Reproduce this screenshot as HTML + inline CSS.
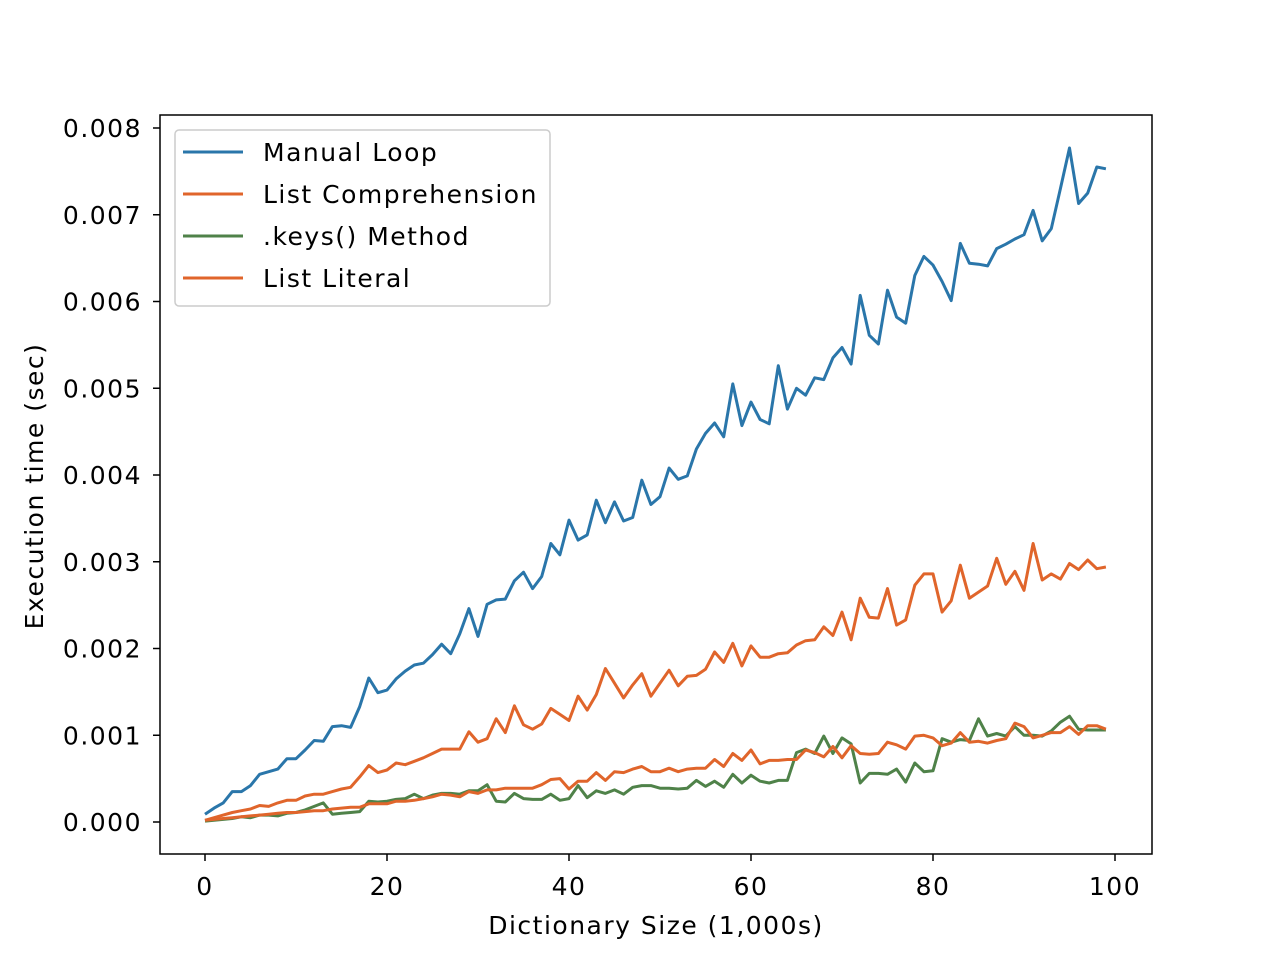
<!DOCTYPE html>
<html><head><meta charset="utf-8"><style>
body{margin:0;background:#fff;}
svg text{font-family:"DejaVu Sans","Liberation Sans",sans-serif;fill:#000;letter-spacing:1.5px;}
</style></head><body>
<svg id="chart" width="1280" height="960" xmlns="http://www.w3.org/2000/svg">
<rect width="1280" height="960" fill="#fff"/>
<g id="plot"></g>
</svg>
<script>
const xValues = Array.from({length:100},(_, i)=>i);
const manualLoop = [0.09,0.16,0.22,0.35,0.35,0.42,0.55,0.58,0.61,0.73,0.73,0.83,0.94,0.93,1.1,1.11,1.09,1.33,1.66,1.49,1.52,1.65,1.74,1.81,1.83,1.93,2.05,1.94,2.17,2.46,2.14,2.51,2.56,2.57,2.78,2.88,2.69,2.83,3.21,3.08,3.48,3.25,3.31,3.71,3.45,3.69,3.47,3.51,3.94,3.66,3.75,4.08,3.95,3.99,4.3,4.48,4.6,4.44,5.05,4.57,4.84,4.64,4.59,5.26,4.76,5.0,4.92,5.12,5.1,5.35,5.47,5.28,6.07,5.61,5.51,6.13,5.82,5.75,6.3,6.52,6.42,6.23,6.01,6.67,6.44,6.43,6.41,6.61,6.66,6.72,6.77,7.05,6.7,6.84,7.3,7.77,7.13,7.25,7.55,7.53];
const listComprehension = [0.02,0.05,0.08,0.11,0.13,0.15,0.19,0.18,0.22,0.25,0.25,0.3,0.32,0.32,0.35,0.38,0.4,0.52,0.65,0.57,0.6,0.68,0.66,0.7,0.74,0.79,0.84,0.84,0.84,1.04,0.92,0.96,1.19,1.03,1.34,1.12,1.07,1.13,1.31,1.24,1.17,1.45,1.29,1.47,1.77,1.6,1.43,1.58,1.71,1.45,1.6,1.75,1.57,1.68,1.69,1.76,1.96,1.84,2.06,1.8,2.03,1.9,1.9,1.94,1.95,2.04,2.09,2.1,2.25,2.15,2.42,2.1,2.58,2.36,2.35,2.69,2.27,2.33,2.73,2.86,2.86,2.42,2.55,2.96,2.58,2.65,2.72,3.04,2.74,2.89,2.67,3.21,2.79,2.86,2.8,2.98,2.91,3.02,2.92,2.94];
const keysMethod = [0.01,0.02,0.03,0.04,0.06,0.05,0.08,0.08,0.07,0.1,0.11,0.14,0.18,0.22,0.09,0.1,0.11,0.12,0.24,0.23,0.24,0.26,0.27,0.32,0.27,0.31,0.33,0.33,0.32,0.36,0.36,0.43,0.24,0.23,0.33,0.27,0.26,0.26,0.32,0.25,0.27,0.42,0.28,0.36,0.33,0.37,0.32,0.4,0.42,0.42,0.39,0.39,0.38,0.39,0.48,0.41,0.47,0.4,0.55,0.45,0.54,0.47,0.45,0.48,0.48,0.8,0.84,0.79,0.99,0.79,0.97,0.9,0.45,0.56,0.56,0.55,0.61,0.46,0.68,0.58,0.59,0.96,0.92,0.95,0.94,1.19,0.99,1.02,0.99,1.1,1.0,1.0,0.99,1.05,1.15,1.22,1.07,1.06,1.06,1.06];
const listLiteral = [0.02,0.03,0.04,0.05,0.06,0.07,0.08,0.09,0.1,0.11,0.11,0.12,0.13,0.13,0.15,0.16,0.17,0.17,0.21,0.21,0.21,0.24,0.24,0.25,0.27,0.29,0.32,0.31,0.29,0.35,0.33,0.37,0.37,0.39,0.39,0.39,0.39,0.43,0.49,0.5,0.38,0.47,0.47,0.57,0.48,0.58,0.57,0.61,0.64,0.58,0.58,0.62,0.58,0.61,0.62,0.62,0.72,0.64,0.79,0.71,0.83,0.67,0.71,0.71,0.72,0.72,0.83,0.8,0.75,0.87,0.74,0.88,0.79,0.78,0.79,0.92,0.89,0.84,0.99,1.0,0.97,0.88,0.91,1.03,0.92,0.93,0.91,0.94,0.96,1.14,1.1,0.97,1.0,1.03,1.03,1.1,1.01,1.11,1.11,1.07];
const seriesNames = ["Manual Loop","List Comprehension",".keys() Method","List Literal"];
const xTicks = [0,20,40,60,80,100];
const yTicks = [0,1,2,3,4,5,6,7,8];
const yTickLabels = ["0.000","0.001","0.002","0.003","0.004","0.005","0.006","0.007","0.008"];

const NS="http://www.w3.org/2000/svg";
const L=160,R=1152,T=115,B=854;
const xs=v=>205+v*9.1;
const ys=v=>822-v*86.75;
const g=document.getElementById('plot');
function mk(tag,attrs,parent){const e=document.createElementNS(NS,tag);for(const k in attrs)e.setAttribute(k,attrs[k]);(parent||g).appendChild(e);return e;}

const colors=["#2a76aa","#e0652b","#4f8249","#e0652b"];
const data=[manualLoop,listComprehension,keysMethod,listLiteral];
const ids=["manual-loop-line","list-comprehension-line","keys-method-line","list-literal-line"];
data.forEach((arr,si)=>{
  const p=mk('polyline',{points:arr.map((v,i)=>xs(xValues[i]).toFixed(1)+','+ys(v).toFixed(1)).join(' '),fill:'none',stroke:colors[si],'stroke-width':3,'stroke-linejoin':'round'});
  
  
});

const frame=mk('rect',{x:L,y:T,width:R-L,height:B-T,fill:'none',stroke:'#000','stroke-width':1.5});



xTicks.forEach(t=>{
  const tk=mk('line',{x1:xs(t),x2:xs(t),y1:B,y2:B+7,stroke:'#000','stroke-width':1.5});
  
  
  const tx=mk('text',{x:xs(t),y:895,'text-anchor':'middle','font-size':25});
  tx.textContent=t;
  
  
});
yTicks.forEach((t,i)=>{
  const tk=mk('line',{x1:L-7,x2:L,y1:ys(t),y2:ys(t),stroke:'#000','stroke-width':1.5});
  
  
  const tx=mk('text',{x:142,y:ys(t)+9,'text-anchor':'end','font-size':25});
  tx.textContent=yTickLabels[i];
  
  
});
const xl=mk('text',{x:656,y:934,'text-anchor':'middle','font-size':25});
xl.textContent="Dictionary Size (1,000s)";


const yl=mk('text',{x:0,y:0,'text-anchor':'middle','font-size':25,transform:'translate(43,486) rotate(-90)'});
yl.textContent="Execution time (sec)";



const lg=mk('g',{});


mk('rect',{x:175,y:130,width:375,height:176,rx:4,fill:'#fff','fill-opacity':0.8,stroke:'#ccc','stroke-width':1.5},lg);
seriesNames.forEach((n,i)=>{
  const y=152+i*42;
  const ln=mk('line',{x1:183,x2:243,y1:y,y2:y,stroke:colors[i],'stroke-width':3},lg);
  
  
  const tx=mk('text',{x:263,y:y+9,'font-size':25},lg);
  tx.textContent=n;
  
  
});
</script>
</body></html>
